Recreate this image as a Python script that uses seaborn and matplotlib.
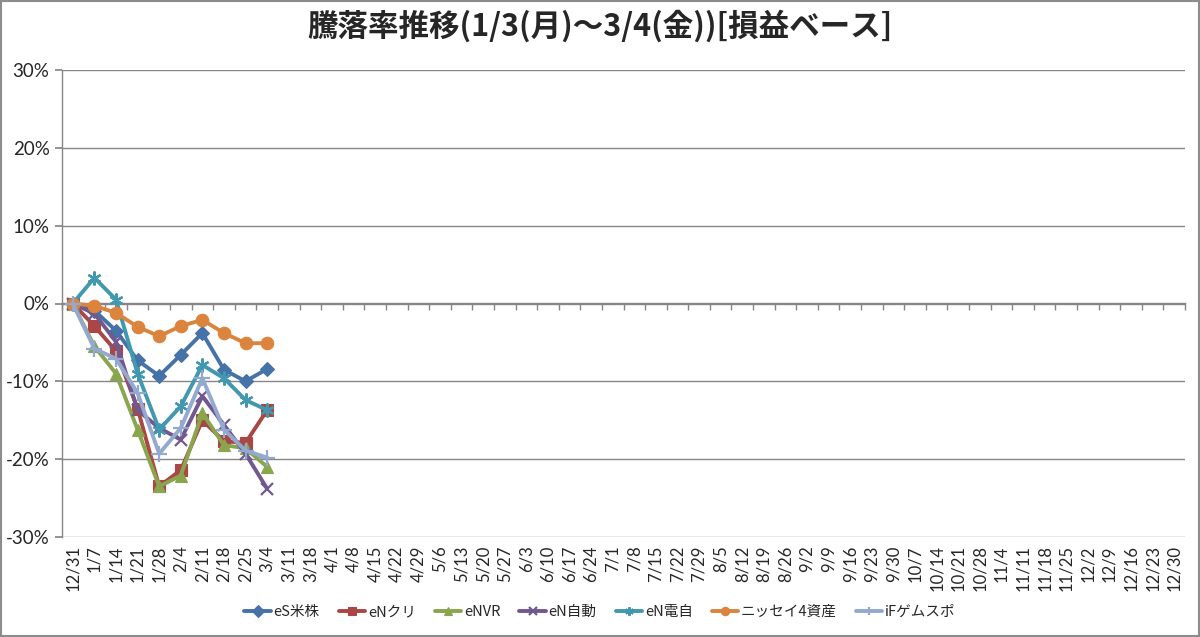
import matplotlib
matplotlib.use("Agg")
import matplotlib.pyplot as plt
import seaborn as sns
import pandas as pd
import numpy as np
from matplotlib.patches import Rectangle
from matplotlib.ticker import FuncFormatter

# ---- data ----
dates = ["12/31", "1/7", "1/14", "1/21", "1/28", "2/4", "2/11", "2/18", "2/25", "3/4",
         "3/11", "3/18", "4/1", "4/8", "4/15", "4/22", "4/29", "5/6", "5/13", "5/20",
         "5/27", "6/3", "6/10", "6/17", "6/24", "7/1", "7/8", "7/15", "7/22", "7/29",
         "8/5", "8/12", "8/19", "8/26", "9/2", "9/9", "9/16", "9/23", "9/30", "10/7",
         "10/14", "10/21", "10/28", "11/4", "11/11", "11/18", "11/25", "12/2", "12/9",
         "12/16", "12/23", "12/30"]

series_names = ["eS米株", "eNクリ", "eNVR", "eN自動", "eN電自", "ニッセイ4資産", "iFゲムスポ"]

es_beikabu = [0.0, -0.9, -3.5, -7.3, -9.3, -6.6, -3.8, -8.5, -10.0, -8.4]
en_kuri = [0.0, -2.9, -6.1, -13.5, -23.5, -21.4, -15.0, -17.7, -17.9, -13.7]
en_vr = [0.0, -5.5, -9.0, -16.2, -23.5, -22.1, -14.1, -18.2, -18.6, -21.0]
en_jido = [0.0, -1.3, -4.9, -13.7, -16.0, -17.5, -11.9, -15.6, -19.3, -23.8]
en_denji = [0.0, 3.3, 0.5, -9.0, -16.2, -13.2, -7.9, -9.6, -12.4, -13.7]
nissei4 = [0.0, -0.3, -1.2, -3.0, -4.2, -2.9, -2.1, -3.8, -5.1, -5.1]
if_gamesports = [0.0, -5.8, -7.1, -11.5, -19.3, -16.0, -9.6, -16.2, -18.9, -19.8]

values = [es_beikabu, en_kuri, en_vr, en_jido, en_denji, nissei4, if_gamesports]
colors = ["#4572A7", "#AA4643", "#89A54E", "#71588F", "#4198AF", "#DB843D", "#93A9CF"]
markers = ["D", "s", "^", "x", (6, 2, 0), "o", "+"]
msizes = [7, 8, 9, 9, 10, 9, 11]

rows = []
for name, vals in zip(series_names, values):
    for i, v in enumerate(vals):
        rows.append({"pos": i, "value": v, "series": name})
df = pd.DataFrame(rows)

# ---- figure ----
sns.set_theme(style="white")
plt.rcParams["font.family"] = ["Noto Sans CJK JP", "DejaVu Sans"]
lab_font = ["Lato", "DejaVu Sans"]

fig = plt.figure(figsize=(12, 6.37), dpi=100)
ax = fig.add_axes([62 / 1200, 1 - 537 / 637, (1185 - 62) / 1200, (537 - 70) / 637])

grid_c = "#868686"
for name, col, mk, ms in zip(series_names, colors, markers, msizes):
    sub = df[df["series"] == name]
    sns.lineplot(data=sub, x="pos", y="value", ax=ax, color=col, marker=mk,
                 markersize=ms, linewidth=2.8, markeredgecolor=col,
                 markeredgewidth=1.6 if mk in ("x", "+") or isinstance(mk, tuple) else 0.8,
                 label=name, legend=False, zorder=3)

ax.set_xlim(-0.5, len(dates) - 0.5)
ax.set_ylim(-30, 30)
ax.set_yticks(np.arange(-30, 31, 10))
ax.yaxis.set_major_formatter(FuncFormatter(lambda v, p: f"{v:.0f}%"))
ax.grid(axis="y", color=grid_c, linewidth=1.0)
ax.set_axisbelow(True)
ax.set_xticks(range(len(dates)))
ax.set_xticklabels(dates, rotation=90, fontsize=12, family=lab_font)
ax.tick_params(axis="x", length=0, pad=6)
ax.tick_params(axis="y", length=5, color=grid_c, direction="out", labelsize=13.5, pad=4, left=True)
for lab in ax.get_yticklabels():
    lab.set_family(lab_font)
ax.set_xlabel("")
ax.set_ylabel("")
for s in ["top", "right", "bottom"]:
    ax.spines[s].set_visible(False)
ax.spines["left"].set_color(grid_c)
ax.spines["left"].set_linewidth(1.0)

# category axis crossing at 0 with boundary tick marks pointing downward
sec = ax.secondary_xaxis(0.5)
sec.set_xticks(np.arange(-0.5, len(dates), 1.0))
sec.set_xticklabels([])
sec.tick_params(axis="x", which="both", length=5, color=grid_c, direction="in", width=1)
for sp in sec.spines.values():
    sp.set_color(grid_c)
    sp.set_linewidth(1.0)

fig.suptitle("騰落率推移(1/3(月)～3/4(金))[損益ベース]", y=0.985, fontsize=22,
             fontweight="bold", va="top")

handles, labels = ax.get_legend_handles_labels()
leg = fig.legend(handles, labels, loc="center", bbox_to_anchor=(0.5, 1 - 612 / 637),
                 ncol=7, frameon=False, fontsize=10.5, handlelength=1.8,
                 columnspacing=1.3, handletextpad=0.2)
for h in leg.legend_handles:
    h.set_markersize(6)

fig.add_artist(Rectangle((0.0008, 0.0012), 0.9984, 0.9976, transform=fig.transFigure,
                         fill=False, edgecolor="#8c8c8c", linewidth=1.5))

fig.savefig("out.png", dpi=100)
